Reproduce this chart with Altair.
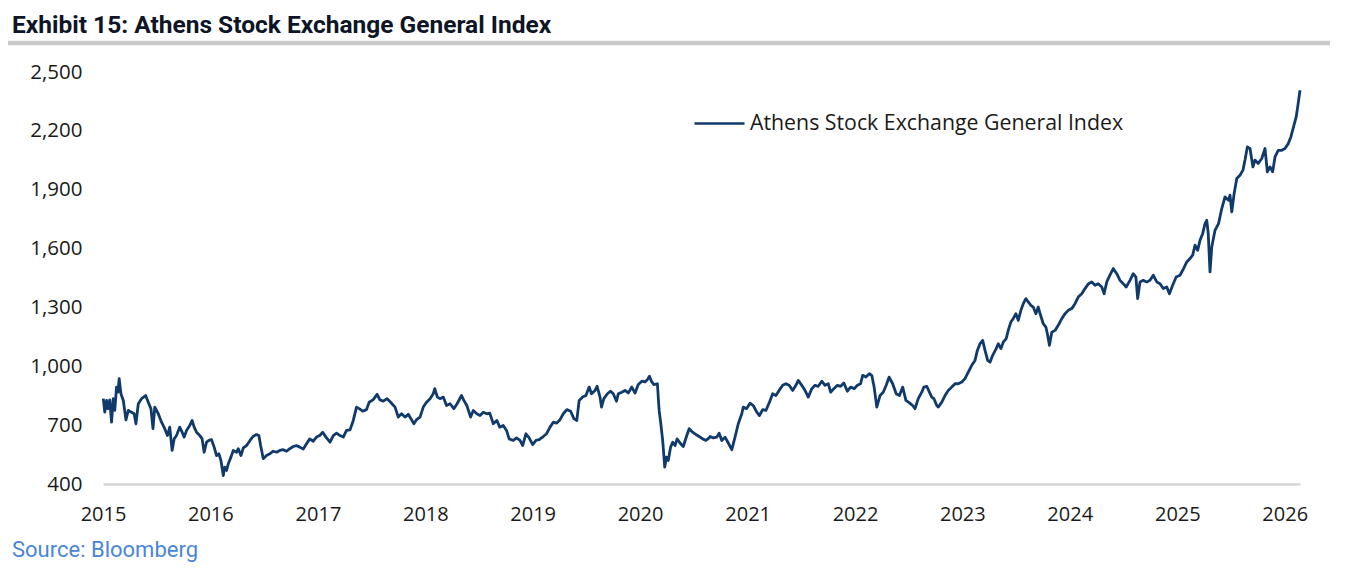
import altair as alt
import pandas as pd
import numpy as np

# ---- data: years since 2015-01-01 and index level ----
t_a = [0.003,0.019,0.034,0.049,0.065,0.081,0.096,0.112,0.128,0.142,0.152,0.168,0.189,0.214,0.236,0.267,0.291,0.307,0.329,0.360,
       0.398,0.422,0.447,0.468,0.484,0.515,0.547,0.577,0.602,0.624,0.645,0.664,0.686,0.717,0.738,0.757,0.779,0.810,0.831,0.850,
       0.872,0.903,0.925,0.943,0.966,0.987,1.012,1.036,1.059,1.080,1.099,1.120,1.136,1.152,1.167,1.192,1.213,1.245,1.260,1.285,
       1.306,1.338,1.369,1.399,1.431,1.453,1.468,1.493,1.524,1.555,1.586,1.617,1.648,1.679,1.710,1.741,1.772,1.804,1.834,1.865]
v_a = [835,766,826,784,829,715,835,775,894,868,937,860,826,727,775,766,758,707,809,835,
       851,817,784,682,792,758,715,682,647,690,571,630,647,690,664,639,673,698,724,690,
       664,647,630,562,613,622,626,588,545,554,520,443,486,469,503,537,571,562,580,545,
       584,596,622,642,652,647,596,529,545,554,567,562,571,575,567,580,591,596,588,578]

t_b = [1.897,1.927,1.958,1.990,2.020,2.046,2.076,2.114,2.144,2.176,2.207,2.237,2.269,2.300,2.331,2.362,2.386,2.418,2.455,2.480,
       2.517,2.554,2.579,2.610,2.647,2.679,2.719,2.750,2.781,2.812,2.843,2.868,2.896,2.921,2.952,2.982,3.014,3.045,3.075,3.091,
       3.113,3.138,3.169,3.200,3.231,3.268,3.299,3.340,3.361,3.387,3.424,3.448,3.480,3.510,3.541,3.573,3.603,3.634,3.666,3.696,
       3.727,3.759,3.783]
v_b = [605,630,618,639,647,664,639,613,647,659,647,639,673,676,724,792,784,771,779,817,
       830,857,830,822,835,817,792,741,758,741,755,733,707,728,741,792,817,835,860,886,
       843,835,843,800,809,784,809,851,826,800,741,775,758,749,766,758,761,707,724,690,
       698,673,630]

t_c = [3.820,3.852,3.883,3.908,3.939,3.969,4.001,4.032,4.062,4.100,4.131,4.162,4.193,4.224,4.255,4.286,4.318,4.355,4.385,4.411,
       4.435,4.466,4.497,4.528,4.550,4.581,4.602,4.628,4.643,4.665,4.696,4.727,4.751,4.783,4.798,4.830,4.860,4.891,4.923,4.953,
       4.984,5.016,5.047,5.068,5.087,5.109,5.130,5.161,5.180,5.193,5.211,5.230,5.248,5.263,5.286,5.305,5.326,5.347,5.372,5.404,
       5.435,5.459,5.491,5.521,5.552,5.584,5.615,5.645]
v_c = [622,635,622,596,656,635,601,622,626,642,656,690,715,710,728,758,779,771,733,724,
       826,843,851,894,860,877,898,843,792,835,860,873,860,822,860,868,877,864,894,864,
       907,924,920,932,949,920,907,911,775,715,622,486,537,520,588,613,596,630,609,591,
       647,682,664,652,642,630,622,635]

t_d = [5.652,5.683,5.714,5.738,5.761,5.791,5.822,5.854,5.885,5.915,5.947,5.962,5.993,6.024,6.055,6.087,6.111,6.142,6.173,6.204,
       6.236,6.266,6.297,6.329,6.360,6.390,6.422,6.453,6.474,6.506,6.536,6.567,6.599,6.629,6.660,6.692,6.723,6.753,6.775,6.806,
       6.837,6.869,6.899,6.930,6.962,6.993,7.023,7.055,7.074,7.104,7.135,7.157,7.179,7.204,7.235,7.265,7.291,7.321,7.353,7.384,
       7.415,7.446,7.477,7.507]
v_d = [642,635,639,659,622,639,609,575,639,707,758,792,784,812,800,766,749,779,775,817,
       860,851,877,903,911,903,877,903,928,903,877,843,886,903,898,924,903,911,868,886,
       903,898,915,873,894,886,903,911,954,945,962,954,894,792,851,868,903,945,911,860,
       851,894,826,815]

t_e = [7.538,7.561,7.591,7.623,7.644,7.669,7.694,7.716,7.737,7.763,7.777,7.809,7.840,7.871,7.902,7.933,7.964,7.995,8.026,8.057,
       8.088,8.119,8.141,8.166,8.191,8.212,8.237,8.259,8.284,8.315,8.336,8.361,8.383,8.408,8.429,8.452,8.476,8.501,8.522,8.545,
       8.569,8.594,8.615,8.638,8.662,8.687,8.709,8.731,8.755,8.780,8.796,8.811,8.833,8.864,8.895,8.926,8.957,8.988,9.020,9.050,
       9.081,9.113,9.143,9.175,9.206,9.236,9.267,9.299,9.320,9.345,9.371]
v_e = [800,784,835,868,894,898,868,843,835,800,792,817,851,877,894,911,911,920,937,970,
       1005,1030,1081,1115,1132,1081,1030,1021,1056,1090,1115,1090,1123,1141,1183,1226,1243,1268,1234,1285,
       1319,1345,1328,1311,1302,1268,1302,1260,1217,1200,1158,1107,1174,1183,1209,1243,1268,1285,1294,1319,
       1353,1370,1396,1421,1430,1413,1421,1404,1370,1430,1459]

t_f = [9.407,9.439,9.469,9.500,9.525,9.562,9.593,9.618,9.634,9.655,9.686,9.718,9.749,9.779,9.811,9.842,9.872,9.904,9.928,9.960,
       9.991,10.028,10.059,10.090,10.121,10.146,10.168,10.193,10.214,10.239,10.261,10.277,10.291,10.307,10.323,10.354,10.385,10.416,10.447,10.478,
       10.493,10.509,10.531,10.556,10.587,10.612,10.633,10.655,10.680,10.705,10.726,10.757,10.789,10.819,10.841,10.866,10.891,10.912,10.943,10.975,
       11.006,11.036,11.059,11.083,11.108,11.124,11.145]
v_f = [1498,1472,1438,1421,1404,1438,1472,1455,1345,1430,1438,1430,1438,1464,1430,1421,1396,1404,1370,1413,
       1455,1464,1498,1532,1549,1566,1617,1591,1642,1676,1727,1744,1676,1481,1608,1693,1727,1804,1863,1846,
       1872,1787,1880,1957,1974,2000,2051,2118,2110,2016,2051,2034,2059,2110,1991,2016,1991,2067,2101,2101,
       2110,2135,2169,2220,2271,2331,2407]

series_name = "Athens Stock Exchange General Index"
title_text = "Exhibit 15: Athens Stock Exchange General Index"
source_text = "Source: Bloomberg"
y_ticks = [400, 700, 1000, 1300, 1600, 1900, 2200, 2500]
x_years = list(range(2015, 2027))

t_all = t_a + t_b + t_c + t_d + t_e + t_f
v_all = v_a + v_b + v_c + v_d + v_e + v_f
n = min(len(t_all), len(v_all))
dates = pd.Timestamp("2015-01-01") + pd.to_timedelta(np.array(t_all[:n]) * 365.25, unit="D")
df = pd.DataFrame({"date": dates.strftime("%Y-%m-%d"), "value": v_all[:n], "series": series_name})

W, H = 1197, 412
LINE_COLOR = "#0f3a6b"
AX_FONT = "Open Sans"

line = alt.Chart(df).mark_line(strokeWidth=2.8, strokeJoin="round").encode(
    x=alt.X("date:T",
            scale=alt.Scale(domain=[alt.DateTime(year=2015, month=1, date=1),
                                    alt.DateTime(year=2026, month=2, date=22)]),
            axis=alt.Axis(title=None, format="%Y",
                          values=[alt.DateTime(year=y, month=1, date=1) for y in x_years],
                          grid=False, ticks=False, tickSize=0, domain=True,
                          domainColor="#d6d6d6", domainWidth=2.5,
                          labelFont=AX_FONT, labelFontSize=20, labelColor="#1a1a1a",
                          labelPadding=20, labelFlush=False)),
    y=alt.Y("value:Q",
            scale=alt.Scale(domain=[400, 2500], nice=False, zero=False),
            axis=alt.Axis(title=None, values=y_ticks, format=",d", grid=False,
                          ticks=False, tickSize=0, domain=False,
                          labelFont=AX_FONT, labelFontSize=20.5, labelColor="#1a1a1a",
                          labelPadding=21)),
    color=alt.Color("series:N",
                    scale=alt.Scale(range=[LINE_COLOR]),
                    legend=alt.Legend(title=None, orient="none", legendX=590, legendY=25,
                                      symbolType="stroke", symbolSize=2500,
                                      symbolStrokeWidth=2.5, labelFont=AX_FONT,
                                      labelFontSize=21.3, labelColor="#1a1a1a",
                                      labelOffset=4, labelLimit=600)),
)

rule = alt.Chart(pd.DataFrame({"k": [0]})).mark_rule(color="#c9c9c9", strokeWidth=4.5).encode(
    x=alt.value(-95), x2=alt.value(W + 40), y=alt.value(-29)
)

source = alt.Chart(pd.DataFrame({"k": [0]})).mark_text(
    align="left", baseline="middle", font="Roboto", fontSize=22, color="#4a86d6"
).encode(x=alt.value(-91), y=alt.value(478), text=alt.value(source_text))

chart = alt.layer(rule, line, source).properties(
    width=W, height=H,
    padding={"left": 95, "top": 64, "right": 30, "bottom": 89},
    autosize=alt.AutoSizeParams(type="none"),
    title=alt.TitleParams(title_text, anchor="start", frame="group", dx=-91,
                          font="Roboto", fontSize=24.5, fontWeight="bold",
                          color="#0d1526", offset=2),
).configure_view(stroke=None)

chart.save("out.html", embed_options={"renderer": "svg", "actions": False})
